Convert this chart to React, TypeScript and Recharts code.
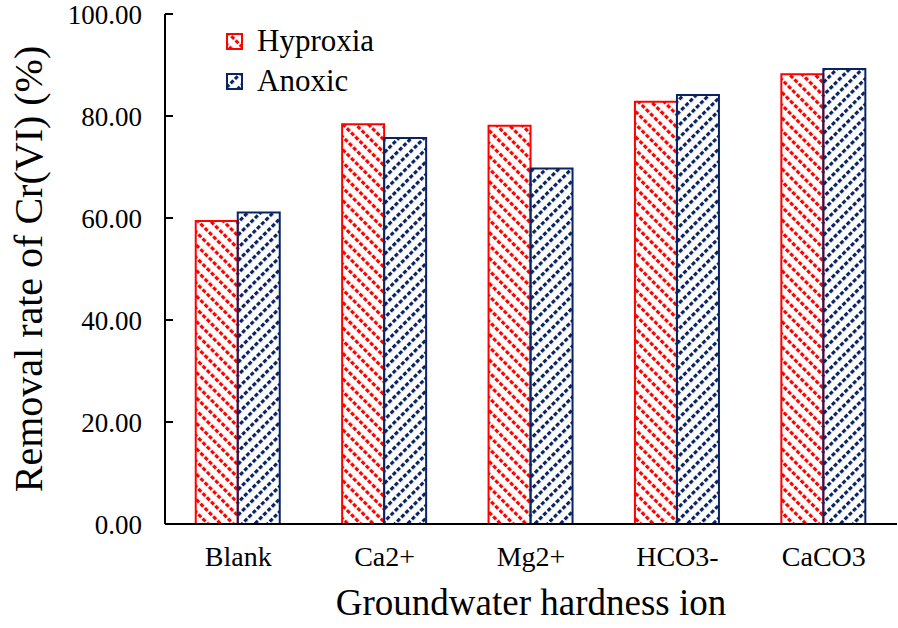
import { BarChart, Bar, XAxis, YAxis, Legend } from 'recharts';

const categories = ['Blank', 'Ca2+', 'Mg2+', 'HCO3-', 'CaCO3'];
const hyproxia = [59.4, 78.4, 78.1, 82.8, 88.2];
const anoxic = [61.1, 75.7, 69.7, 84.1, 89.2];
const yTicks = [0, 20, 40, 60, 80, 100];
const edgeTicks = [0, 1, 2, 3, 4, 5];

const data = categories.map((name, i) => ({ name, hyproxia: hyproxia[i], anoxic: anoxic[i] }));

const FONT = '"Liberation Serif", "Times New Roman", serif';
const RED = '#ff0000';
const NAVY = '#0a2463';

const YTick = (props: any) => {
  const { x, y, payload } = props;
  return (
    <g>
      <text x={x} y={y} dy="0.355em" textAnchor="end" fontFamily={FONT} fontSize={27} fill="#000">
        {Number(payload.value).toFixed(2)}
      </text>
      <line x1={x + 23} x2={x + 31} y1={y} y2={y} stroke="#000" strokeWidth={2} />
    </g>
  );
};

const XTick = (props: any) => {
  const { x, y, payload } = props;
  return (
    <text x={x} y={y} dy="0.71em" textAnchor="middle" fontFamily={FONT} fontSize={28} fill="#000">
      {payload.value}
    </text>
  );
};

const EdgeTick = (props: any) => {
  const { x, y } = props;
  return <line x1={x} x2={x} y1={y} y2={y - 8} stroke="#000" strokeWidth={2} />;
};

const Swatch = ({ pattern, color }: any) => (
  <svg width={18} height={17} style={{ marginRight: 13 }}>
    <rect x={1} y={1} width={15} height={15} fill={`url(#${pattern})`} stroke={color} strokeWidth={2} />
  </svg>
);

const LegendBox = () => (
  <div style={{ fontFamily: FONT, fontSize: 31, color: '#000', lineHeight: '40px' }}>
    <div style={{ display: 'flex', alignItems: 'center' }}>
      <Swatch pattern="redHatch" color={RED} />
      <span>Hyproxia</span>
    </div>
    <div style={{ display: 'flex', alignItems: 'center' }}>
      <Swatch pattern="navyHatch" color={NAVY} />
      <span>Anoxic</span>
    </div>
  </div>
);

export default function App() {
  return (
    <div style={{ position: 'absolute', left: 0, top: 0, background: '#fff' }}>
      <BarChart
        width={898}
        height={628}
        data={data}
        margin={{ top: 14, right: 1, left: 0, bottom: 0 }}
        barCategoryGap="21%"
        barGap={0}
      >
        <defs>
          <pattern id="redHatch" patternUnits="userSpaceOnUse" width={9} height={6} patternTransform="rotate(-45)">
            <rect x={0} y={0} width={3.2} height={4} fill={RED} />
          </pattern>
          <pattern id="navyHatch" patternUnits="userSpaceOnUse" width={9} height={6} patternTransform="rotate(45)">
            <rect x={0} y={0} width={3.2} height={4} fill={NAVY} />
          </pattern>
        </defs>
        <XAxis
          xAxisId="edges"
          type="number"
          domain={[0, 5]}
          ticks={edgeTicks}
          height={0}
          axisLine={false}
          tickLine={false}
          tickSize={0}
          tickMargin={0}
          tick={<EdgeTick />}
          interval={0}
        />
        <XAxis
          xAxisId="cat"
          dataKey="name"
          height={104}
          axisLine={{ stroke: '#000', strokeWidth: 2 }}
          tickLine={false}
          tickSize={0}
          tickMargin={22}
          tick={<XTick />}
          interval={0}
          label={{
            content: ({ viewBox }: any) => (
              <text
                x={viewBox.x + viewBox.width / 2}
                y={viewBox.y + 91}
                textAnchor="middle"
                fontFamily={FONT}
                fontSize={37}
                fill="#000"
              >
                Groundwater hardness ion
              </text>
            ),
          }}
        />
        <YAxis
          width={165}
          domain={[0, 100]}
          ticks={yTicks}
          axisLine={{ stroke: '#000', strokeWidth: 2 }}
          tickLine={false}
          tickSize={0}
          tickMargin={23}
          tick={<YTick />}
          interval={0}
          label={{
            content: ({ viewBox }: any) => {
              const cx = viewBox.x + 28;
              const cy = viewBox.y + viewBox.height / 2;
              return (
                <text
                  x={cx}
                  y={cy}
                  transform={`rotate(-90, ${cx}, ${cy})`}
                  textAnchor="middle"
                  dominantBaseline="central"
                  fontFamily={FONT}
                  fontSize={40}
                  fill="#000"
                >
                  Removal rate of Cr(VI) (%)
                </text>
              );
            },
          }}
        />
        <Legend
          layout="horizontal"
          verticalAlign="middle"
          align="center"
          content={<LegendBox />}
          wrapperStyle={{ position: 'absolute', left: 226, top: 21, width: 'auto' }}
        />
        <Bar
          xAxisId="cat"
          dataKey="hyproxia"
          name="Hyproxia"
          fill="url(#redHatch)"
          stroke={RED}
          strokeWidth={2}
          isAnimationActive={false}
        />
        <Bar
          xAxisId="cat"
          dataKey="anoxic"
          name="Anoxic"
          fill="url(#navyHatch)"
          stroke={NAVY}
          strokeWidth={2}
          isAnimationActive={false}
        />
      </BarChart>
    </div>
  );
}
